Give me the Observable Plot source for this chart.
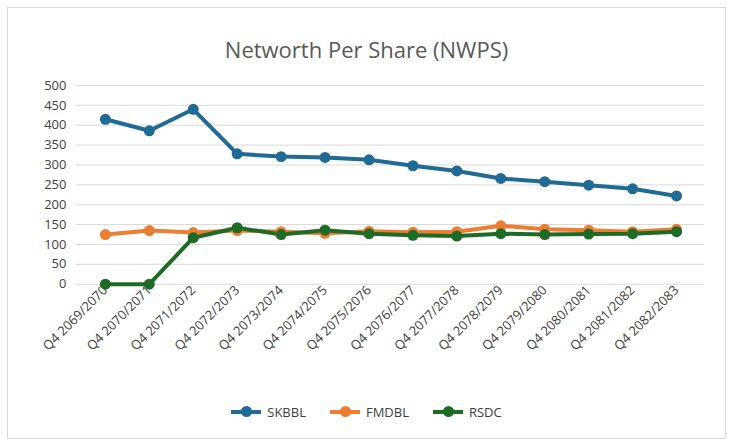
<!DOCTYPE html>
<html><head><meta charset="utf-8">
<script src="https://cdn.jsdelivr.net/npm/d3@7"></script>
<script src="https://cdn.jsdelivr.net/npm/@observablehq/plot@0.6"></script>
<style>
body{margin:0;background:#fff;font-family:"Open Sans",Calibri,sans-serif;}
#box{position:absolute;left:7px;top:7px;width:719px;height:432px;border:1px solid #d9d9d9;box-sizing:border-box;}
#title{position:absolute;left:0;width:100%;top:26px;text-align:center;font-size:22px;color:#595959;}
#chart{position:absolute;left:0px;top:62px;}
#legend{position:absolute;top:392px;width:100%;text-align:center;font-size:13px;color:#404040;}
.li{display:inline-flex;align-items:center;margin:0 12px;}
.sw{position:relative;width:30px;height:4px;margin-right:6px;}
.sw i{position:absolute;left:10px;top:-4px;width:11px;height:11px;border-radius:50%;}
</style></head><body>
<div id="box"><div id="title">Networth Per Share (NWPS)</div><div id="chart"></div><div id="legend"></div></div>
<script>
const periods=["Q4 2069/2070","Q4 2070/2071","Q4 2071/2072","Q4 2072/2073","Q4 2073/2074","Q4 2074/2075","Q4 2075/2076","Q4 2076/2077","Q4 2077/2078","Q4 2078/2079","Q4 2079/2080","Q4 2080/2081","Q4 2081/2082","Q4 2082/2083"];
const SKBBL=[415,386,440,328,321,319,313,298,285,266,258,249,240,222];
const FMDBL=[125,135,130,135,132,128,133,131,132,147,138,136,132,138];
const RSDC=[0,0,117,142,125,136,127,123,121,127,125,126,127,132];
const seriesNames=["SKBBL","FMDBL","RSDC"];
const colors=["#1f6b94","#ed7d31","#1e6b27"];
const yTicks=[0,50,100,150,200,250,300,350,400,450,500];
const vals=[SKBBL,FMDBL,RSDC];
const data=[];
seriesNames.forEach((s,i)=>periods.forEach((p,j)=>data.push({s,p,v:vals[i][j]})));
const order=["FMDBL","RSDC","SKBBL"];
const plot=Plot.plot({
  width:718,height:326,marginLeft:68,marginRight:21,marginTop:15,marginBottom:112,
  style:{fontFamily:"'Open Sans',sans-serif",fontSize:"13px",color:"#404040"},
  x:{type:"point",domain:periods,padding:0.5,label:null,tickSize:0,tickRotate:-45,tickPadding:4},
  y:{domain:[0,500],ticks:yTicks,label:null,tickSize:0,tickPadding:10},
  color:{domain:seriesNames,range:colors},
  marks:[
    Plot.gridY(yTicks,{stroke:"#d9d9d9",strokeOpacity:1,strokeWidth:1}),
    ...order.map(s=>Plot.line(data.filter(d=>d.s===s),{x:"p",y:"v",stroke:"s",strokeWidth:4})),
    ...order.map(s=>Plot.dot(data.filter(d=>d.s===s),{x:"p",y:"v",fill:"s",r:5.5}))
  ]
});
document.getElementById("chart").appendChild(plot);
document.getElementById("legend").innerHTML=seriesNames.map((s,i)=>`<span class="li"><span class="sw" style="background:${colors[i]}"><i style="background:${colors[i]}"></i></span>${s}</span>`).join("");
</script></body></html>
